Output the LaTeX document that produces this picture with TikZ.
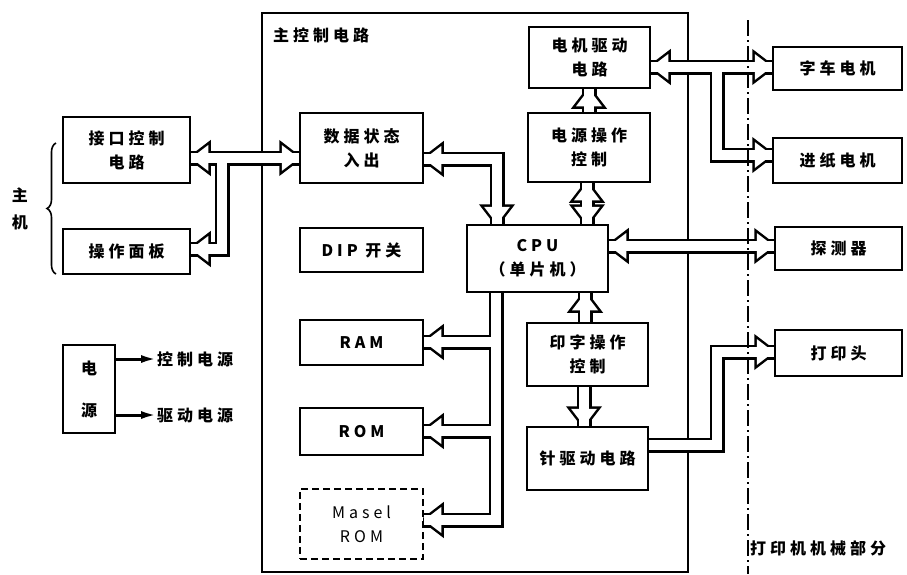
\documentclass[tikz,border=0pt]{standalone}
\usepackage{fontspec}
\setmainfont{Noto Sans CJK SC}[LetterSpace=25]
\usetikzlibrary{calc,decorations.pathreplacing,arrows.meta}
\pgfdeclarelayer{bg}\pgfdeclarelayer{mid}\pgfsetlayers{bg,mid,main}
\newcommand\hdR[1]{(#1) -- ++(-17,-13) -- ++(0,26) -- cycle}
\newcommand\hdL[1]{(#1) -- ++(17,-13) -- ++(0,26) -- cycle}
\newcommand\hdU[1]{(#1) -- ++(-13,17) -- ++(26,0) -- cycle}
\newcommand\hdD[1]{(#1) -- ++(-13,-17) -- ++(26,0) -- cycle}
\newcommand\allch{%
 % interface <-> data I/O, branch to panel
 \path[chl] (jk.east |- 0,158) -- (sj.west |- 0,158);
 \path[chl] (222,158) -- (222,249) -- (czmb.east |- 0,249);
 % data I/O <-> CPU
 \path[chl] (sj.east |- 0,159) -- (497,159) -- (cpu.north -| 497,0);
 % power control -> motor drive
 \path[chl] (dycz.north -| 589,0) -- (djqd.south -| 589,0);
 % CPU <-> power control
 \path[chl] (cpu.north -| 587,0) -- (dycz.south -| 587,0);
 % print control -> CPU
 \path[chl] (yzcz.north -| 585,0) -- (cpu.south -| 585,0);
 % print control -> pin driver
 \path[chl] (yzcz.south -| 584,0) -- (zqd.north -| 584,0);
 % memory bus
 \path[chl] (cpu.south -| 496,0) -- (496,520) -- (masel.east |- 0,520);
 \path[chl] (496,342) -- (ram.east |- 0,342);
 \path[chl] (496,431) -- (rom.east |- 0,431);
 % motor drive <-> motors
 \path[chl] (djqd.east |- 0,67) -- (zcdj.west |- 0,67);
 \path[chl] (717,67) -- (717,155) -- (jzdj.west |- 0,155);
 % CPU <-> detector
 \path[chl] (cpu.east |- 0,246) -- (tcq.west |- 0,246);
 % pin driver -> print head
 \path[chl] (zqd.east |- 0,445) -- (717,445) -- (717,352) -- (dyt.west |- 0,352);
 \path[hd] \hdL{jk.east |- 0,158} \hdR{sj.west |- 0,158} \hdL{czmb.east |- 0,249}
   \hdL{sj.east |- 0,159} \hdD{cpu.north -| 497,0}
   \hdU{djqd.south -| 589,0}
   \hdD{cpu.north -| 587,0} \hdU{dycz.south -| 587,0}
   \hdU{cpu.south -| 585,0} \hdD{zqd.north -| 584,0}
   \hdL{ram.east |- 0,342} \hdL{rom.east |- 0,431} \hdL{masel.east |- 0,520}
   \hdL{djqd.east |- 0,67} \hdR{zcdj.west |- 0,67} \hdR{jzdj.west |- 0,155}
   \hdL{cpu.east |- 0,246} \hdR{tcq.west |- 0,246}
   \hdR{dyt.west |- 0,352};
}
\begin{document}
\begin{tikzpicture}[x=1pt,y=-1pt,
  box/.style={draw, line width=2.5pt, fill=white, inner sep=0pt, align=center,
    font=\fontsize{16}{24}\selectfont\bfseries},
  lbl/.style={inner sep=0pt, font=\fontsize{16}{18}\selectfont\bfseries},
  pw/.style={line width=3pt, -{Latex[length=16pt,width=8pt]}},
  chl/.style={draw=black, line width=15pt, line join=miter},
  hd/.style={fill=black, draw=black, line width=5pt, line join=miter}]
\useasboundingbox (0,0) rectangle (907,574);
% boxes
\node[box, minimum width=127pt, minimum height=66pt] (jk) at (126.5,150) {接口控制\\电路};
\node[box, minimum width=127pt, minimum height=45pt] (czmb) at (126.5,251.5) {操作面板};
\node[box, minimum width=123pt, minimum height=70pt] (sj) at (361.5,148) {数据状态\\入出};
\node[box, minimum width=123pt, minimum height=44pt] (dip) at (361.5,250) {DIP 开关};
\node[box, minimum width=141pt, minimum height=67pt] (cpu) at (537.5,258.5) {CPU\\（单片机）};
\node[box, minimum width=123pt, minimum height=45pt] (ram) at (361.5,342.5) {RAM};
\node[box, minimum width=123pt, minimum height=47pt] (rom) at (361.5,431.5) {ROM};
\node[box, dashed, dash pattern=on 7pt off 4pt, minimum width=123pt, minimum height=70pt, font=\fontsize{16}{24}\selectfont] (masel) at (361.5,524) {Masel\\ROM};
\node[box, minimum width=121pt, minimum height=61pt] (djqd) at (589.5,57.5) {电机驱动\\电路};
\node[box, minimum width=122pt, minimum height=69pt] (dycz) at (589,147.5) {电源操作\\控制};
\node[box, minimum width=121pt, minimum height=63pt] (yzcz) at (587.5,354.5) {印字操作\\控制};
\node[box, minimum width=121pt, minimum height=63pt] (zqd) at (587.5,458.5) {针驱动电路};
\node[box, minimum width=129pt, minimum height=43pt] (zcdj) at (837.5,68.5) {字车电机};
\node[box, minimum width=129pt, minimum height=45pt] (jzdj) at (837.5,160.5) {进纸电机};
\node[box, minimum width=127pt, minimum height=43pt] (tcq) at (838.5,248.5) {探测器};
\node[box, minimum width=127pt, minimum height=46pt] (dyt) at (838.5,353) {打印头};
\node[box, minimum width=52pt, minimum height=88pt, font=\fontsize{16}{42}\selectfont\bfseries] (dy) at (89,389) {电\\源};
% frame
\begin{pgfonlayer}{bg}
\node[draw, line width=2.2pt, minimum width=426pt, minimum height=559pt, inner sep=0pt] (frame) at (475,292.5) {};
\end{pgfonlayer}
% channels
\begin{pgfonlayer}{mid}
\allch
\tikzset{chl/.style={draw=white, line width=10pt, line join=miter}, hd/.style={fill=white}}
\allch
\end{pgfonlayer}
% labels
\node[lbl, anchor=west] (zkz) at (273,35) {主控制电路};
\node[lbl] (zhu) at (20,195) {主};
\node[lbl] (ji) at (20,222) {机};
\draw[line width=1.6pt, decorate, decoration={brace, amplitude=9pt}] (56,274) -- (56,143);
\node[lbl, anchor=west] (kzdy) at (157,359) {控制电源};
\node[lbl, anchor=west] (qddy) at (157,415) {驱动电源};
\draw[pw] (dy.east |- kzdy) -- (kzdy.west);
\draw[pw] (dy.east |- qddy) -- (qddy.west);
\draw[line width=1.6pt, dash pattern=on 16pt off 4pt on 2pt off 4pt] (748,20) -- (748,574);
\node[lbl, anchor=west] (jxbf) at (750,548) {打印机机械部分};
\end{tikzpicture}
\end{document}
